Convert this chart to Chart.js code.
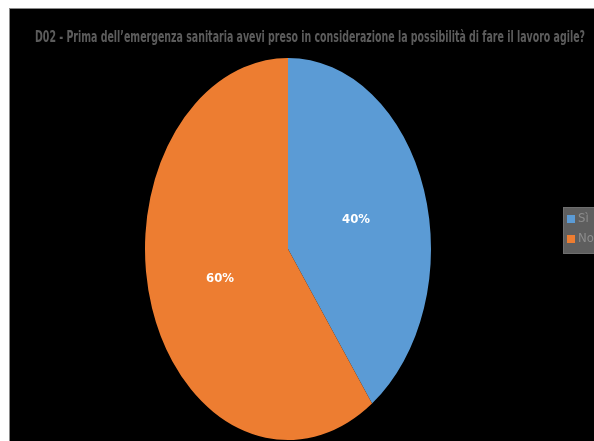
<!DOCTYPE html>
<html>
<head>
<meta charset="utf-8">
<script src="https://cdn.jsdelivr.net/npm/chart.js@4"></script>
<style>
  html, body { margin: 0; padding: 0; background: #fff; }
  #wrap { width: 594px; height: 441px; }
</style>
</head>
<body>
<div id="wrap"><canvas id="pieChart" width="594" height="441"></canvas></div>
<script>
const titleText = 'D02 - Prima dell\u2019emergenza sanitaria avevi preso in considerazione la possibilità di fare il lavoro agile?';
const categories = ['Sì', 'No'];
const answers = [40, 60];
const sliceColors = ['#5B9BD5', '#ED7D31'];

const yStretch = 1.336;
const narrowFont = '"Liberation Sans Narrow", "DejaVu Sans Condensed", "Open Sans", sans-serif';

// black frame behind everything
const frame = {
    id: 'frame',
    beforeDraw(chart) {
        const c = chart.ctx;
        c.save();
        c.fillStyle = '#000';
        c.fillRect(10, 9, chart.width - 10, chart.height - 9);
        c.strokeStyle = '#8a8a8a';
        c.lineWidth = 1;
        c.strokeRect(9.5, 8.5, chart.width, chart.height);
        c.restore();
    }
};

// the pie is drawn as an ellipse: stretch the y axis around the centre
const stretch = {
    id: 'stretch',
    beforeDatasetsDraw(chart) {
        const a = chart.chartArea;
        const cy = (a.top + a.bottom) / 2;
        chart.ctx.save();
        chart.ctx.translate(0, cy);
        chart.ctx.scale(1, yStretch);
        chart.ctx.translate(0, -cy);
    },
    afterDatasetsDraw(chart) {
        chart.ctx.restore();
    }
};

function fitText(c, text, x, y, maxW) {
    const w = c.measureText(text).width;
    const k = Math.min(1, maxW / w);
    c.save();
    c.translate(x, y);
    c.scale(k, 1);
    c.fillText(text, 0, 0);
    c.restore();
}

const extras = {
    id: 'extras',
    afterDraw(chart) {
        const c = chart.ctx;
        const a = chart.chartArea;
        const cx = (a.left + a.right) / 2;
        const cy = (a.top + a.bottom) / 2;

        // title
        c.save();
        c.fillStyle = '#5c5c5c';
        c.font = 'bold 15px ' + narrowFont;
        c.textAlign = 'center';
        c.textBaseline = 'middle';
        fitText(c, titleText, 310, 38, 550);
        c.restore();

        // percentage labels halfway out in each slice
        const meta = chart.getDatasetMeta(0);
        const total = answers.reduce((s, v) => s + v, 0);
        c.save();
        c.fillStyle = '#fff';
        c.font = 'bold 13px ' + narrowFont;
        c.textAlign = 'center';
        c.textBaseline = 'middle';
        meta.data.forEach((arc, i) => {
            const mid = (arc.startAngle + arc.endAngle) / 2;
            const r = arc.outerRadius * 0.5;
            const x = cx + Math.cos(mid) * r;
            const y = cy + Math.sin(mid) * r * yStretch;
            c.fillText(Math.round(answers[i] / total * 100) + '%', x, y);
        });
        c.restore();

        // legend box at the right edge
        c.save();
        c.fillStyle = '#5e5e5e';
        c.fillRect(563, 207, 40, 46);
        c.strokeStyle = '#6e6e6e';
        c.strokeRect(563.5, 207.5, 40, 46);
        c.font = '13px ' + narrowFont;
        c.textBaseline = 'middle';
        categories.forEach((name, i) => {
            const y = 219 + i * 20;
            c.fillStyle = sliceColors[i];
            c.fillRect(567, y - 4, 8, 8);
            c.fillStyle = '#8c8c8c';
            c.fillText(name, 578, y);
        });
        c.restore();
    }
};

const ctx = document.getElementById('pieChart').getContext('2d');
const pieChart = new Chart(ctx, {
    type: 'pie',
    data: {
        labels: categories,
        datasets: [{
            data: answers,
            backgroundColor: sliceColors,
            borderWidth: 0,
            clip: false
        }]
    },
    options: {
        responsive: false,
        animation: false,
        events: [],
        layout: {
            padding: { left: 145, right: 163, top: 106, bottom: 49 }
        },
        plugins: {
            legend: { display: false },
            title: { display: false },
            tooltip: { enabled: false }
        }
    },
    plugins: [frame, stretch, extras]
});
</script>
</body>
</html>
